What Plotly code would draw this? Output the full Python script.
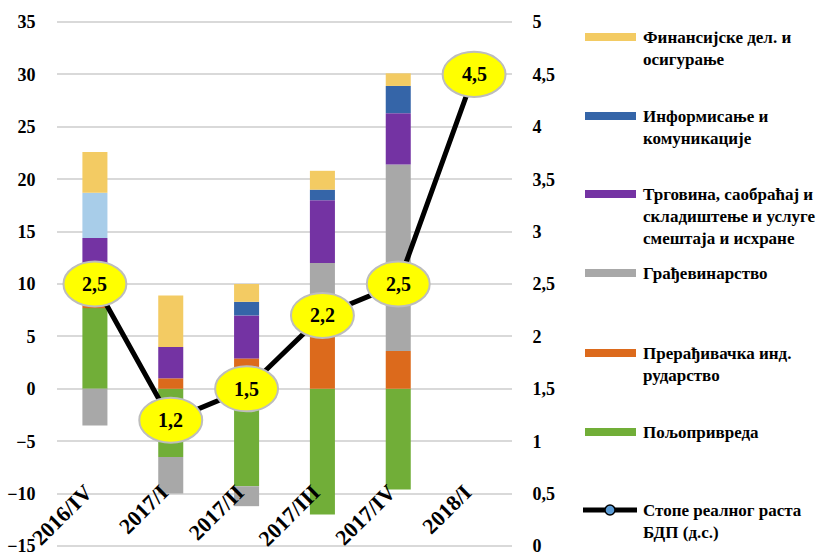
import plotly.graph_objects as go

# ---------------- data ----------------
categories = ["2016/IV", "2017/I", "2017/II", "2017/III", "2017/IV", "2018/I"]

agriculture   = [7.7, -6.5, -9.3, -12.0, -9.6, None]
manufacturing = [0.3, 1.0, 2.9, 5.0, 3.6, None]
construction  = [-3.5, -3.5, -1.9, 7.0, 17.8, None]
trade         = [6.4, 3.0, 4.1, 6.0, 4.9, None]
information   = [4.3, 0.0, 1.3, 1.0, 2.6, None]
financial     = [3.9, 4.9, 1.7, 1.8, 1.2, None]
gdp_growth    = [2.5, 1.2, 1.5, 2.2, 2.5, 4.5]

left_ticks = [-15, -10, -5, 0, 5, 10, 15, 20, 25, 30, 35]
right_ticks = [0, 0.5, 1, 1.5, 2, 2.5, 3, 3.5, 4, 4.5, 5]
right_tick_text = ["0", "0,5", "1", "1,5", "2", "2,5", "3", "3,5", "4", "4,5", "5"]

series_names = [
    "Финансијске дел. и<br>осигурање",
    "Информисање и<br>комуникације",
    "Трговина, саобраћај и<br>складиштење и услуге<br>смештаја и исхране",
    "Грађевинарство",
    "Прерађивачка инд.<br>рударство",
    "Пољопривреда",
    "Стопе реалног раста<br>БДП (д.с.)",
]

# ---------------- style ----------------
W, H = 835, 554
ML, MR, MT, MB = 57, 323, 20, 6
FONT = "Liberation Serif"
PAD_L = 0.19          # left-axis padding (units) so edge gridlines show
PAD_R = PAD_L / 10.0  # same in right-axis units

c_agri = "#71ae38"
c_manu = "#dc6a1c"
c_cons = "#a8a8a8"
c_trade = "#7433a3"
c_info = "#3565a8"
c_info_light = "#a8cde9"
c_fin = "#f3cb63"

fig = go.Figure()
bar_w = 0.33

def bar(vals, color, name):
    fig.add_trace(go.Bar(x=categories, y=vals, marker=dict(color=color, line=dict(width=0)),
                         width=bar_w, name=name, showlegend=False))

bar(agriculture, c_agri, "Пољопривреда")
bar(manufacturing, c_manu, "Прерађивачка инд. рударство")
bar(construction, c_cons, "Грађевинарство")
bar(trade, c_trade, "Трговина")
bar(information, [c_info_light] + [c_info] * 5, "Информисање")
bar(financial, c_fin, "Финансијске")

fig.add_trace(go.Scatter(x=categories, y=gdp_growth, yaxis="y2", mode="lines",
                         line=dict(color="black", width=5), showlegend=False,
                         name="Стопе реалног раста БДП"))

# ellipses + labels for the GDP line
ew, eh = 0.83, 0.43
shapes = []
annotations = []
for i, v in enumerate(gdp_growth):
    shapes.append(dict(type="circle", xref="x", yref="y2",
                       x0=i - ew / 2, x1=i + ew / 2, y0=v - eh / 2, y1=v + eh / 2,
                       fillcolor="#ffff00", line=dict(color="#bdbdbd", width=2), layer="above"))
    annotations.append(dict(x=categories[i], y=v, xref="x", yref="y2",
                            text=f"{v:.1f}".replace(".", ","), showarrow=False,
                            font=dict(family=FONT, size=20, color="black", weight="bold")))

# ---------------- manual legend ----------------
PW = W - ML - MR
PH = H - MT - MB
def px(xp):
    return (xp - ML) / PW
def py(yp):
    return (H - MB - yp) / PH

legend_items = [
    (37, c_fin, series_names[0]),
    (116, c_info, series_names[1]),
    (194, c_trade, series_names[2]),
    (273, c_cons, series_names[3]),
    (353, c_manu, series_names[4]),
    (432, c_agri, series_names[5]),
]
for yc, col, txt in legend_items:
    shapes.append(dict(type="rect", xref="paper", yref="paper",
                       x0=px(585), x1=px(636), y0=py(yc + 4), y1=py(yc - 4),
                       fillcolor=col, line=dict(width=0), layer="above"))
    annotations.append(dict(x=px(641), y=py(yc - 11), xref="paper", yref="paper",
                            xanchor="left", yanchor="top", align="left", text=txt,
                            showarrow=False,
                            font=dict(family=FONT, size=17, color="black", weight="bold")))
# line legend item
shapes.append(dict(type="line", xref="paper", yref="paper",
                   x0=px(583), x1=px(637), y0=py(510), y1=py(510),
                   line=dict(color="black", width=5), layer="above"))
shapes.append(dict(type="circle", xref="paper", yref="paper",
                   x0=px(605), x1=px(615), y0=py(515), y1=py(505),
                   fillcolor="#5b9bd5", line=dict(color="black", width=1.5), layer="above"))
annotations.append(dict(x=px(641), y=py(510 - 11), xref="paper", yref="paper",
                        xanchor="left", yanchor="top", align="left", text=series_names[6],
                        showarrow=False,
                        font=dict(family=FONT, size=17, color="black", weight="bold")))

tickfont = dict(family=FONT, size=18, color="black", weight="bold")

fig.update_layout(
    width=W, height=H,
    margin=dict(l=ML, r=MR, t=MT, b=MB, autoexpand=False),
    paper_bgcolor="white", plot_bgcolor="white",
    barmode="relative",
    bargap=0.5,
    showlegend=False,
    shapes=shapes,
    annotations=annotations,
    xaxis=dict(type="category", range=[-0.5, 5.5], showgrid=False, showline=False,
               zeroline=False, anchor="free", position=0.14, automargin=False,
               ticklabelshift=-9, ticklabeloverflow="allow",
               tickangle=-45, ticks="", tickfont=dict(family=FONT, size=22, color="black", weight="bold")),
    yaxis=dict(range=[-15 - PAD_L, 35 + PAD_L], tickvals=left_ticks, showgrid=True, automargin=False,
               gridcolor="#d9d9d9", gridwidth=1.5, zeroline=False, showline=False,
               ticklabeloverflow="allow",
               ticks="outside", ticklen=17, tickcolor="rgba(0,0,0,0)", tickfont=tickfont),
    yaxis2=dict(range=[0 - PAD_R, 5 + PAD_R], overlaying="y", side="right", tickvals=right_ticks,
                automargin=False, ticklabeloverflow="allow",
                ticktext=right_tick_text, showgrid=False, zeroline=False, showline=False,
                ticks="outside", ticklen=16, tickcolor="rgba(0,0,0,0)", tickfont=tickfont),
)

fig.write_html("out.html", config={"displayModeBar": False},
               post_script="document.body.style.margin='0';document.body.style.overflow='hidden';")
